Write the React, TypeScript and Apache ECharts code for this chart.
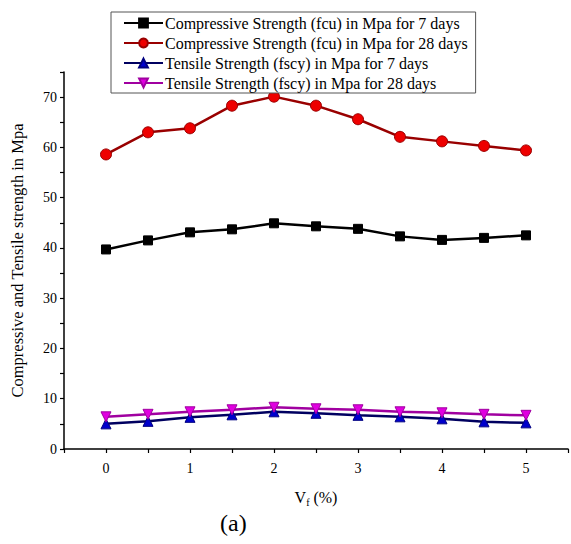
import React, { useEffect, useRef } from "react";
import * as echarts from "echarts";

const xValues = [0, 0.5, 1, 1.5, 2, 2.5, 3, 3.5, 4, 4.5, 5];
const comp7 = [39.7, 41.5, 43.1, 43.7, 44.9, 44.3, 43.8, 42.3, 41.6, 42.0, 42.5];
const comp28 = [58.6, 63.0, 63.8, 68.3, 70.1, 68.3, 65.6, 62.1, 61.2, 60.3, 59.4];
const tens7 = [5.0, 5.5, 6.3, 6.8, 7.4, 7.1, 6.7, 6.4, 6.0, 5.4, 5.2];
const tens28 = [6.4, 6.9, 7.4, 7.8, 8.3, 8.0, 7.8, 7.4, 7.2, 6.9, 6.7];
const seriesNames = [
  "Compressive Strength (fcu) in Mpa for 7 days",
  "Compressive Strength (fcu) in Mpa for 28 days",
  "Tensile Strength (fscy) in Mpa for 7 days",
  "Tensile Strength (fscy) in Mpa for 28 days",
];

const FONT = "'Liberation Serif', 'Times New Roman', serif";

export default function App() {
  const ref = useRef<HTMLDivElement>(null);
  useEffect(() => {
    document.body.style.margin = "0";
    const chart = echarts.init(ref.current!, null, { renderer: "svg" });
    const pair = (arr: number[]) => xValues.map((x, i) => [x, arr[i]]);
    const mk = (
      name: string,
      data: number[],
      line: string,
      fill: string,
      border: string,
      symbol: string,
      size: number,
      rotate = 0
    ) => ({
      name,
      type: "line",
      data: pair(data),
      symbol,
      symbolSize: size,
      symbolRotate: rotate,
      lineStyle: { color: line, width: 2.5 },
      itemStyle: { color: fill, borderColor: border, borderWidth: 1 },
    });
    chart.setOption({
      animation: false,
      backgroundColor: "#fff",
      textStyle: { fontFamily: FONT },
      grid: { left: 64, top: 72, right: 0, bottom: 95, containLabel: false },
      legend: {
        orient: "vertical",
        left: 111,
        top: 12,
        padding: [3, 8, 2, 12],
        itemWidth: 39,
        itemHeight: 11,
        itemGap: 4,
        borderColor: "#555",
        borderWidth: 1,
        backgroundColor: "#fff",
        textStyle: { fontFamily: FONT, fontSize: 16, color: "#000", padding: [0, 0, 0, -3] },
        data: seriesNames,
      },
      xAxis: {
        type: "value",
        min: -0.5,
        max: 5.5,
        interval: 0.5,
        name: "{a|V}{b|f}{a| (%)}",
        nameLocation: "middle",
        nameGap: 38,
        nameTextStyle: {
          rich: {
            a: { fontFamily: FONT, fontSize: 16, color: "#000" },
            b: { fontFamily: FONT, fontSize: 10, color: "#000", padding: [10, 0, 0, 0] },
          },
        },
        splitLine: { show: false },
        axisLine: { onZero: false, lineStyle: { color: "#000", width: 1.5 } },
        axisTick: { length: 4, lineStyle: { color: "#000", width: 1.2 } },
        axisLabel: {
          fontFamily: FONT,
          fontSize: 14,
          color: "#000",
          margin: 12,
          formatter: (v: number) => (Number.isInteger(v) && v >= 0 && v <= 5 ? String(v) : ""),
        },
      },
      yAxis: {
        type: "value",
        min: 0,
        max: 75,
        interval: 5,
        name: "Compressive and Tensile strength in Mpa",
        nameLocation: "middle",
        nameGap: 38,
        nameTextStyle: { fontFamily: FONT, fontSize: 16.5, color: "#000" },
        splitLine: { show: false },
        axisLine: { show: true, onZero: false, lineStyle: { color: "#000", width: 1.5 } },
        axisTick: { length: 4, lineStyle: { color: "#000", width: 1.2 } },
        axisLabel: {
          fontFamily: FONT,
          fontSize: 14,
          color: "#000",
          margin: 7,
          formatter: (v: number) => (v % 10 === 0 && v <= 70 ? String(v) : ""),
        },
      },
      graphic: [
        {
          type: "text",
          left: 220,
          top: 511,
          style: { text: "(a)", font: "24px 'Liberation Serif', serif", fill: "#000" },
        },
      ],
      series: [
        mk(seriesNames[0], comp7, "#000000", "#000000", "#000000", "rect", 9),
        mk(seriesNames[1], comp28, "#990000", "#ee0000", "#990000", "circle", 11),
        mk(seriesNames[2], tens7, "#000060", "#0000cc", "#000080", "triangle", 10),
        mk(seriesNames[3], tens28, "#a000a0", "#e000e0", "#a000a0", "triangle", 10, 180),
      ],
    });
    return () => chart.dispose();
  }, []);
  return <div ref={ref} style={{ width: 571, height: 544 }} />;
}
